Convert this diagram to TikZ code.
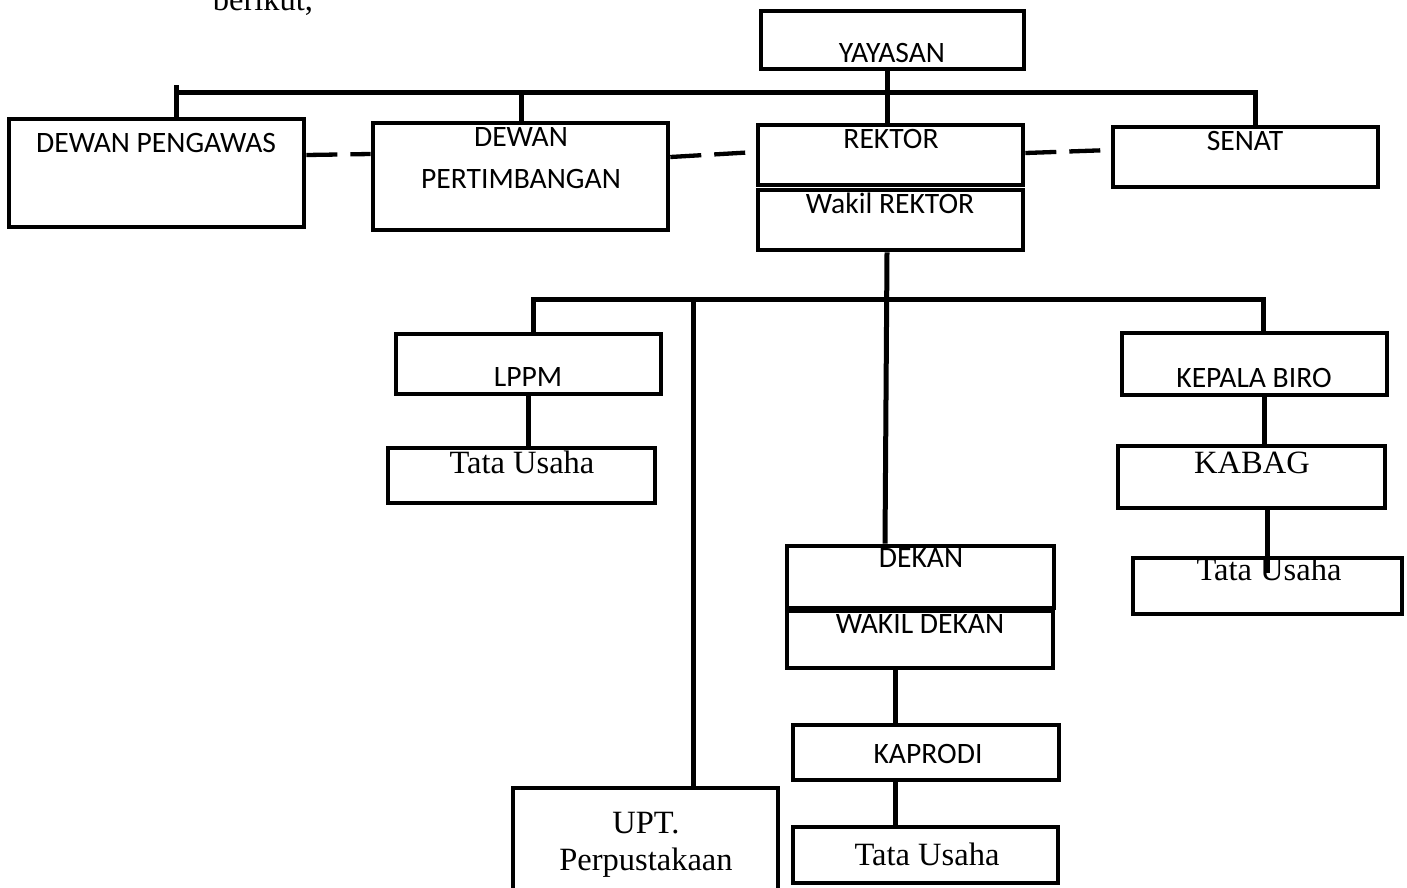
\documentclass[tikz,border=0pt]{standalone}
\usepackage{fontspec}
\setmainfont{Liberation Serif}
\newfontfamily\carl{Carlito}
\begin{document}
\begin{tikzpicture}[x=1pt,y=-1pt,
  box/.style={draw=black,line width=4.6pt,fill=white,rectangle,inner sep=0pt},
  conn/.style={draw=black,line width=5pt},
  dashline/.style={draw=black,line width=4.3pt,dash pattern=on 31pt off 13pt},
  sanst/.style={anchor=base,inner sep=0pt,font=\carl\fontsize{29.6}{32}\selectfont},
  serift/.style={anchor=base,inner sep=0pt,font=\fontsize{32.5}{35}\selectfont}]
\useasboundingbox (0,0) rectangle (1407,887);
\clip (0,0) rectangle (1407,887);
% boxes
\node[box,minimum width=263pt,minimum height=58pt] (yay) at (892.5,40) {};
\node[box,minimum width=295pt,minimum height=108pt] (dpg) at (156.5,173) {};
\node[box,minimum width=295pt,minimum height=107pt] (dpt) at (520.5,176.5) {};
\node[box,minimum width=265pt,minimum height=60pt] (rek) at (890.5,155) {};
\node[box,minimum width=265pt,minimum height=60pt] (wrek) at (890.5,220) {};
\node[box,minimum width=265pt,minimum height=60pt] (sen) at (1245.5,157) {};
\node[box,minimum width=265pt,minimum height=60pt] (lppm) at (528.5,364) {};
\node[box,minimum width=267pt,minimum height=55pt] (tu1) at (521.5,475.5) {};
\node[box,minimum width=265pt,minimum height=62pt] (kb) at (1254.5,364) {};
\node[box,minimum width=267pt,minimum height=62pt] (kab) at (1251.5,477) {};
\node[box,minimum width=269pt,minimum height=56pt] (tu3) at (1267.5,586) {};
\node[box,minimum width=267pt,minimum height=62pt] (dek) at (920.5,577) {};
\node[box,minimum width=266pt,minimum height=57pt] (wdek) at (920,639.5) {};
\node[box,minimum width=266pt,minimum height=55pt] (kap) at (926,752.5) {};
\node[box,minimum width=265pt,minimum height=56pt] (tu2) at (925.5,855) {};
\node[box,minimum width=265pt,minimum height=117pt] (upt) at (645.5,846.5) {};
% upper connectors
\draw[conn] (dpg.north -| 176,0) -- (176,85);
\draw[conn] (174,92) -- (1255,92) -- (sen.north -| 1255,0);
\draw[conn] (dpt.north -| 521,0) -- (521,92);
\draw[conn] (yay.south -| 887,0) -- (rek.north -| 887,0);
\draw[dashline] (dpg.east |- 0,155) -- (dpt.west |- 0,154);
\draw[dashline] (dpt.east |- 0,157) -- (rek.west |- 0,152);
\draw[dashline] (rek.east |- 0,153) -- (sen.west |- 0,150);
% lower connectors
\draw[conn] (wrek.south -| 887,0) -- (dek.north -| 885,0);
\draw[conn] (lppm.north -| 533,0) -- (533,299) -- (1263,299) -- (kb.north -| 1263,0);
\draw[conn] (693,301) -- (upt.north -| 693,0);
\draw[conn] (lppm.south -| 528,0) -- (tu1.north -| 528,0);
\draw[conn] (kb.south -| 1264,0) -- (kab.north -| 1264,0);
\draw[conn] (kab.south -| 1267,0) -- (1267,573);
\draw[conn] (wdek.south -| 895,0) -- (kap.north -| 895,0);
\draw[conn] (kap.south -| 895,0) -- (tu2.north -| 895,0);
% texts
\node[serift] (tber) at (263,10) {berikut,};
\node[sanst] (tyay) at (892,62) {YAYASAN};
\node[sanst] (tdpg) at (156,152) {DEWAN PENGAWAS};
\node[sanst] (tdpt1) at (521,146) {DEWAN};
\node[sanst] (tdpt2) at (521,188) {PERTIMBANGAN};
\node[sanst] (trek) at (891,148) {REKTOR};
\node[sanst] (twrek) at (890,213) {Wakil REKTOR};
\node[sanst] (tsen) at (1245,150) {SENAT};
\node[sanst] (tlppm) at (528,386) {LPPM};
\node[serift] (ttu1) at (522,473) {Tata Usaha};
\node[sanst] (tkb) at (1254,387) {KEPALA BIRO};
\node[serift] (tkab) at (1252,473) {KABAG};
\node[serift] (ttu3) at (1269,580) {Tata Usaha};
\node[sanst] (tdek) at (921,567) {DEKAN};
\node[sanst] (twdek) at (920,633) {WAKIL DEKAN};
\node[sanst] (tkap) at (928,763) {KAPRODI};
\node[serift] (ttu2) at (927,865) {Tata Usaha};
\node[serift] (tupt1) at (646,833) {UPT.};
\node[serift] (tupt2) at (646,870) {Perpustakaan};
\end{tikzpicture}
\end{document}
